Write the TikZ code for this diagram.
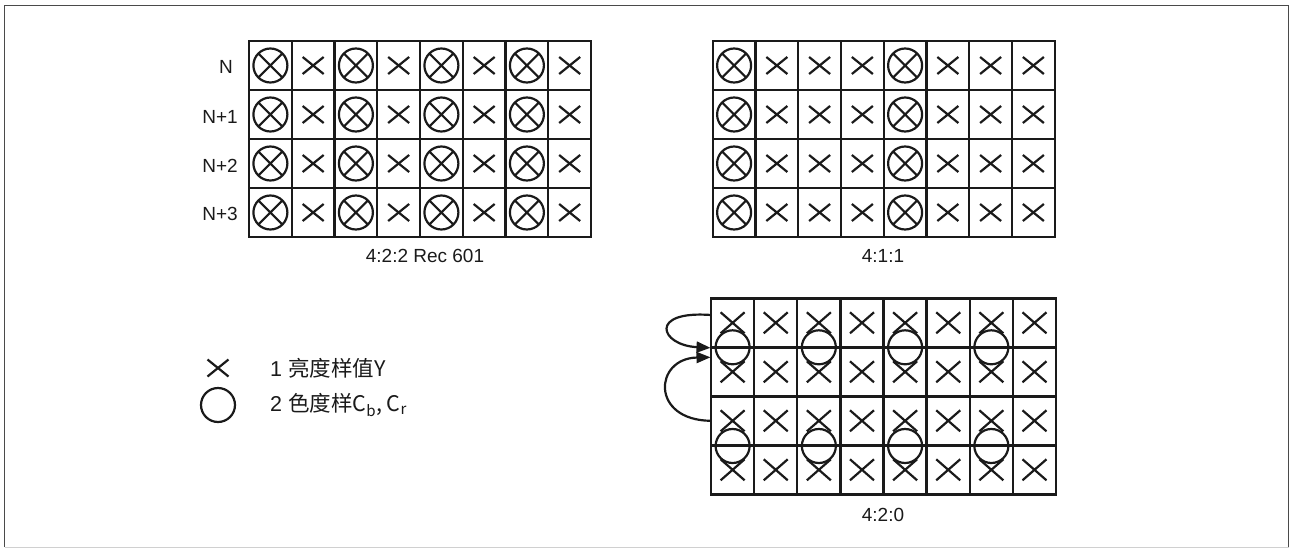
\documentclass[tikz,border=0pt]{standalone}
\usepackage{fontspec}
\setmainfont{Liberation Sans}
\newfontfamily\cjk{Noto Sans CJK SC}
\usetikzlibrary{arrows.meta}
\definecolor{sampblack}{HTML}{1A1A1A}
\definecolor{framedark}{HTML}{4A4A4A}
\definecolor{framelight}{HTML}{D0D0D0}
\tikzset{
  gridline/.style={draw=sampblack,line width=2.4pt},
  symline/.style={draw=sampblack,line width=2.2pt},
  lbl/.style={inner sep=0pt,text=sampblack,font=\fontsize{19}{21}\selectfont},
  lgdlbl/.style={inner sep=0pt,anchor=west,text=sampblack,font=\fontsize{21.5}{24}\selectfont},
  lumax/.pic={\draw[symline] (-10.5,-8.5) -- (10.5,8.5) (-10.5,8.5) -- (10.5,-8.5);},
  bigx/.pic={\draw[symline] (-12,-10.5) -- (12,10.5) (-12,10.5) -- (12,-10.5);},
  chromao/.pic={\draw[symline] (0,0) circle (17);},
  chromax/.pic={\draw[symline] (0,0) circle (17) (-12,-12) -- (12,12) (-12,12) -- (12,-12);}
}

\begin{document}
\begin{tikzpicture}[x=1pt,y=-1pt]
\useasboundingbox (0,0) rectangle (1290,549);
\draw[framedark,line width=1.6pt] (4.5,547) -- (4.5,5.6) -- (1288.6,5.6) -- (1288.6,547); %Frame, left/top/right
\draw[framelight,line width=1pt] (4.5,547.6) -- (1288.6,547.6); %Frame, bottom

\begin{scope}[shift={(249,41)}] %4:2:2 grid
\draw[gridline] (0,0) rectangle (342,196);
\foreach \c in {1,...,7} \draw[gridline] ({42.75*\c},0) -- ++(0,196);
\foreach \r in {1,2,3} \draw[gridline] (0,{49*\r}) -- ++(342,0);
\foreach \r in {0,...,3} {
  \foreach \c in {0,2,4,6} \pic at ({42.75*\c+21.4},{49*\r+24.5}) {chromax};
  \foreach \c in {1,3,5,7} \pic at ({42.75*\c+21.4},{49*\r+24.5}) {lumax};
}
\node[lbl,anchor=east] (rown) at (-16,26) {N};
\node[lbl,anchor=east] (rown1) at (-11,75.5) {N+1};
\node[lbl,anchor=east] (rown2) at (-11,124.5) {N+2};
\node[lbl,anchor=east] (rown3) at (-11,173) {N+3};
\node[lbl] (cap422) at (176,214.5) {4:2:2 Rec 601};
\end{scope}

\begin{scope}[shift={(712.7,41)}] %4:1:1 grid
\draw[gridline] (0,0) rectangle (342,196);
\foreach \c in {1,...,7} \draw[gridline] ({42.75*\c},0) -- ++(0,196);
\foreach \r in {1,2,3} \draw[gridline] (0,{49*\r}) -- ++(342,0);
\foreach \r in {0,...,3} {
  \foreach \c in {0,4} \pic at ({42.75*\c+21.4},{49*\r+24.5}) {chromax};
  \foreach \c in {1,2,3,5,6,7} \pic at ({42.75*\c+21.4},{49*\r+24.5}) {lumax};
}
\node[lbl] (cap411) at (170.3,214.5) {4:1:1};
\end{scope}

\begin{scope}[shift={(711,298.3)}] %4:2:0 grid
\draw[gridline] (0,0) rectangle (345,196);
\foreach \c in {1,...,7} \draw[gridline] ({43.125*\c},0) -- ++(0,196);
\foreach \r in {1,2,3} \draw[gridline] (0,{49*\r}) -- ++(345,0);
\foreach \r in {0,...,3} \foreach \c in {0,...,7} \pic at ({43.125*\c+21.6},{49*\r+24.5}) {bigx};
\foreach \c in {0,2,4,6} {
  \pic at ({43.125*\c+21.6},49) {chromao};
  \pic at ({43.125*\c+21.6},147.7) {chromao};
}
\node[lbl] (cap420) at (172,216.3) {4:2:0};
\coordinate (row1out) at (0,16.7);
\coordinate (row12in) at (-0.5,49.5);
\coordinate (row3out) at (0,122.5);
\coordinate (row34in) at (-0.5,59);
\draw[symline,-{Triangle[length=14pt,width=11pt]}] (row1out) .. controls (-63,12) and (-51,47) .. (row12in); %Top loop
\draw[symline,-{Triangle[length=14pt,width=11pt]}] (row3out) .. controls (-61,122) and (-57,60) .. (row34in); %Bottom loop
\end{scope}

\pic at (218,368) {lumax}; %Legend
\pic at (218,405) {chromao};
\node[lgdlbl] (lgdluma) at (270,368) {1 \cjk{亮度样值}Y};
\node[lgdlbl] (lgdchroma) at (270,405) {2 \cjk{色度样}C\textsubscript{b}, C\textsubscript{r}};
\end{tikzpicture}
\end{document}
